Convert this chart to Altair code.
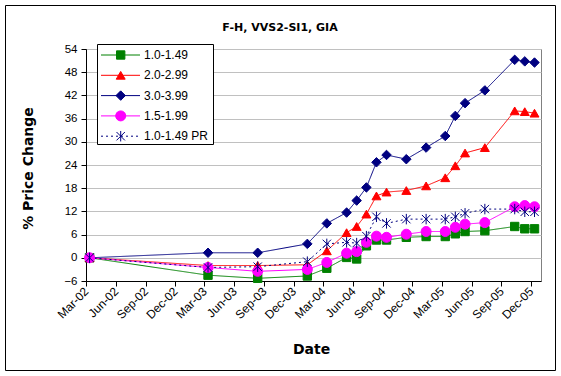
import altair as alt
import pandas as pd

# ---- data ----
dates = ["2002-03-12", "2003-03-12", "2003-08-12", "2004-01-12", "2004-03-12",
         "2004-05-12", "2004-06-12", "2004-07-12", "2004-08-12", "2004-09-12",
         "2004-11-12", "2005-01-12", "2005-03-12", "2005-04-12", "2005-05-12",
         "2005-07-12", "2005-10-12", "2005-11-12", "2005-12-12"]

names = ["1.0-1.49", "2.0-2.99", "3.0-3.99", "1.5-1.99", "1.0-1.49 PR"]

s_10_149 = [0, -4.5, -5.3, -4.7, -2.7, 0.1, -0.3, 3.1, 4.6, 4.6, 5.3, 5.5, 5.5, 6.2, 6.8, 7.0, 8.1, 7.5, 7.5]
s_20_299 = [0, -2.0, -2.0, -1.8, 1.8, 6.5, 8.1, 11.3, 16.0, 17.0, 17.4, 18.6, 20.7, 23.8, 27.1, 28.5, 38.0, 37.8, 37.4]
s_30_399 = [0, 1.3, 1.3, 3.6, 8.9, 11.7, 14.8, 18.2, 24.7, 26.6, 25.5, 28.5, 31.5, 36.7, 40.0, 43.3, 51.2, 50.8, 50.5]
s_15_199 = [0, -2.5, -3.5, -3.0, -1.2, 1.2, 1.6, 4.0, 5.6, 5.3, 6.1, 6.8, 6.8, 7.9, 8.7, 9.1, 13.2, 13.5, 13.2]
s_10_149pr = [0, -2.5, -2.3, -1.0, 3.6, 4.0, 3.8, 5.6, 10.6, 8.9, 10.0, 10.0, 10.0, 10.6, 11.5, 12.6, 12.6, 11.9, 11.9]

series_values = [s_10_149, s_20_299, s_30_399, s_15_199, s_10_149pr]

title_text = "F-H, VVS2-SI1, GIA"
y_ticks = [-6, 0, 6, 12, 18, 24, 30, 36, 42, 48, 54]
x_tick_years_months = [(y, m) for y in (2002, 2003, 2004, 2005) for m in (3, 6, 9, 12)]

# ---- styles ----
colors = ["#008000", "#FF0000", "#000080", "#FF00FF", "#000080"]
asterisk = "M0,-1L0,1M-0.8,-0.8L0.8,0.8M-0.8,0.8L0.8,-0.8"
shapes = ["square", "triangle-up", "diamond", "circle", asterisk]
sizes = [70, 110, 100, 72, 100]
dashes = [[1, 0], [1, 0], [1, 0], [1, 0], [2, 3]]

rows = []
for name, vals in zip(names, series_values):
    for d, v in zip(dates, vals):
        rows.append({"date": d, "series": name, "value": v})
df = pd.DataFrame(rows)

leg_df = pd.DataFrame({"series": names, "idx": list(range(len(names)))})
one = pd.DataFrame({"a": [0]})
title_df = pd.DataFrame({"t": [title_text]})

color_enc = alt.Color("series:N", scale=alt.Scale(domain=names, range=colors), legend=None)
stroke_enc = alt.Stroke("series:N", scale=alt.Scale(domain=names, range=colors), legend=None)
shape_enc = alt.Shape("series:N", scale=alt.Scale(domain=names, range=shapes), legend=None)
size_enc = alt.Size("series:N", scale=alt.Scale(domain=names, range=sizes), legend=None)
dash_enc = alt.StrokeDash("series:N", scale=alt.Scale(domain=names, range=dashes), legend=None)

x_enc = alt.X(
    "date:T",
    scale=alt.Scale(type="utc",
                    domain=[alt.DateTime(year=2002, month=3, date=1, utc=True),
                            alt.DateTime(year=2006, month=1, date=1, utc=True)]),
    axis=alt.Axis(
        title="Date",
        values=[alt.DateTime(year=y, month=m, date=1, utc=True) for y, m in x_tick_years_months],
        format="%b-%y",
        labelAngle=-45, labelAlign="right", labelBaseline="middle",
        labelPadding=3, tickSize=5, grid=False, labelFontSize=12,
        labelOverlap=False, labelBound=False, labelFlush=False,
        titleX=225, titleY=72, titleBaseline="alphabetic",
    ),
)
y_enc = alt.Y(
    "value:Q",
    scale=alt.Scale(domain=[-6, 54], nice=False, zero=False),
    axis=alt.Axis(
        title="% Price Change",
        values=y_ticks, format="d",
        tickSize=5, labelPadding=4, grid=True, gridColor="#C0C0C0",
        labelOverlap=False, labelFlush=False, labelFontSize=11.5,
        titleX=-58, titleY=119, titleAngle=-90, titleBaseline="middle", titleAlign="center",
    ),
)

lines = alt.Chart(df).mark_line(strokeWidth=1).encode(
    x=x_enc, y=y_enc, color=color_enc, strokeDash=dash_enc
)
points = alt.Chart(df).mark_point(filled=True, strokeWidth=1, opacity=1).encode(
    x=x_enc, y=y_enc, color=color_enc, stroke=stroke_enc, shape=shape_enc, size=size_enc
)
main = alt.layer(lines, points)

leg_y = alt.Y("idx:Q", scale=alt.Scale(domain=[0, 4], range=[6, 87.2]), axis=None)
leg_box = alt.Chart(one).mark_rect(fill="white", stroke="black", strokeWidth=1).encode(
    x=alt.value(11.5), x2=alt.value(127.5), y=alt.value(-4.5), y2=alt.value(95.5)
)
leg_lines = alt.Chart(leg_df).mark_rule(strokeWidth=1).encode(
    x=alt.value(15), x2=alt.value(54), y=leg_y, color=color_enc, strokeDash=dash_enc
)
leg_pts = alt.Chart(leg_df).mark_point(filled=True, strokeWidth=1, opacity=1).encode(
    x=alt.value(34.7), y=leg_y, color=color_enc, stroke=stroke_enc, shape=shape_enc, size=size_enc
)
leg_text = alt.Chart(leg_df).mark_text(
    align="left", baseline="middle", fontSize=12, font="Liberation Sans", color="black"
).encode(x=alt.value(58), y=leg_y, text="series:N")
outer = alt.Chart(one).mark_rect(fill="white", fillOpacity=0, stroke="black", strokeWidth=1).encode(
    x=alt.value(-80.5), x2=alt.value(469.5), y=alt.value(-43.5), y2=alt.value(321.5)
)
title_mark = alt.Chart(title_df).mark_text(
    align="center", baseline="alphabetic", font="DejaVu Sans", fontSize=11,
    fontWeight="bold", color="black"
).encode(x=alt.value(194), y=alt.value(-18.5), text="t:N")
legend = alt.layer(leg_box, leg_lines, leg_pts, leg_text, outer, title_mark)

chart = alt.layer(main, legend).resolve_scale(y="independent").properties(
    width=455, height=232,
    autosize=alt.AutoSizeParams(type="none"),
    padding={"left": 86, "top": 49, "right": 20, "bottom": 95},
    background="white",
).configure_view(stroke="#808080", strokeWidth=1).configure_axis(
    labelFont="Liberation Sans", labelFontSize=11, labelColor="black",
    titleFont="DejaVu Sans", titleFontSize=14, titleFontWeight="bold", titleColor="black",
    domainColor="black", tickColor="black", domainWidth=1, tickWidth=1,
)

chart.save("out.html", embed_options={"renderer": "svg", "actions": False})
